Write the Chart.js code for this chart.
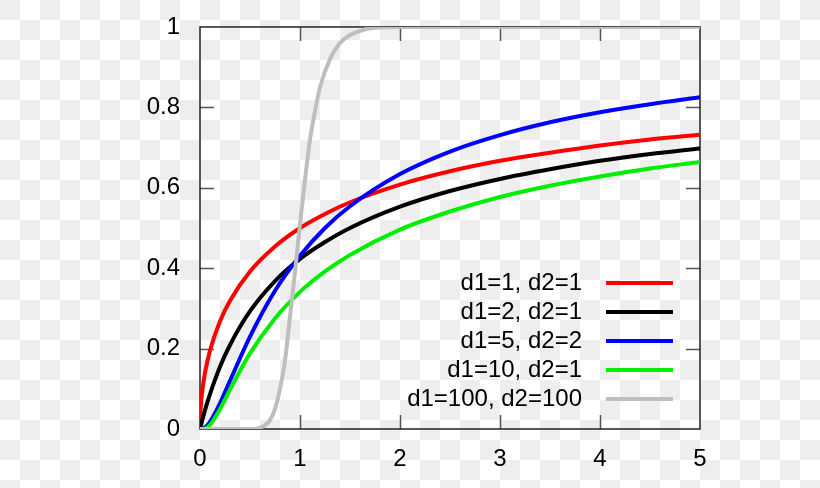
<!DOCTYPE html>
<html>
<head>
<meta charset="utf-8">
<script src="https://cdn.jsdelivr.net/npm/chart.js@4"></script>
<style>
  html, body { margin: 0; padding: 0; }
  body {
    width: 820px; height: 488px;
    background: repeating-conic-gradient(#fff 0% 25%, #eeeeee 0% 50%) 0 0 / 40px 40px;
  }
  #wrap { width: 820px; height: 488px; }
</style>
</head>
<body>
<div id="wrap"><canvas id="cdfChart" width="820" height="488"></canvas></div>
<script>
// x positions shared by the four smooth curves
const xMain = [0, 0.003, 0.01, 0.02, 0.05, 0.1, 0.2, 0.3, 0.5, 0.75, 1, 1.25, 1.5, 2, 2.5, 3, 3.5, 4, 4.5, 5];
const red   = [0, 0.035, 0.064, 0.089, 0.140, 0.195, 0.268, 0.319, 0.392, 0.454, 0.500, 0.535, 0.564, 0.608, 0.641, 0.667, 0.687, 0.705, 0.720, 0.732];
const black = [0, 0.003, 0.010, 0.019, 0.047, 0.087, 0.155, 0.209, 0.293, 0.368, 0.423, 0.465, 0.500, 0.553, 0.592, 0.622, 0.646, 0.667, 0.684, 0.698];
const blue  = [0, 0, 0, 0.0005, 0.004, 0.018, 0.064, 0.120, 0.230, 0.344, 0.431, 0.500, 0.554, 0.634, 0.690, 0.731, 0.763, 0.788, 0.808, 0.825];
const green = [0, 0, 0, 0, 0.001, 0.010, 0.049, 0.098, 0.188, 0.275, 0.341, 0.392, 0.433, 0.496, 0.541, 0.577, 0.605, 0.628, 0.648, 0.664];

// the steep d1=100, d2=100 curve needs its own x positions
const xGray = [0, 0.5, 0.6, 0.7, 0.75, 0.8, 0.85, 0.9, 0.95, 1.0, 1.05, 1.1, 1.15, 1.2, 1.3, 1.4, 1.5, 1.6, 1.7, 2, 3, 4, 5];
const gray  = [0, 0, 0.003, 0.022, 0.05, 0.10, 0.17, 0.28, 0.39, 0.51, 0.62, 0.72, 0.79, 0.85, 0.92, 0.96, 0.98, 0.99, 0.997, 1, 1, 1, 1];

const labels = ['d1=1, d2=1', 'd1=2, d2=1', 'd1=5, d2=2', 'd1=10, d2=1', 'd1=100, d2=100'];
const colors = ['#ff0000', '#000000', '#0000ff', '#00ee00', '#bebebe'];
const xTicks = [0, 1, 2, 3, 4, 5];
const yTicks = [0, 0.2, 0.4, 0.6, 0.8, 1];

const FONT = 'Liberation Sans, Arial, sans-serif';
const FSIZE = 24;

function pts(xs, ys) {
  return xs.map((x, i) => ({ x: x, y: ys[i] }));
}

const series = [pts(xMain, red), pts(xMain, black), pts(xMain, blue), pts(xMain, green), pts(xGray, gray)];

// frame with inward ticks on all four sides (gnuplot style)
const framePlugin = {
  id: 'frame',
  beforeDatasetsDraw(chart) {
    const { ctx, chartArea: a, scales } = chart;
    const len = 14;
    ctx.save();
    ctx.lineWidth = 1.5;
    ctx.strokeStyle = '#555';
    ctx.beginPath();
    xTicks.forEach(v => {
      const px = Math.round(scales.x.getPixelForValue(v)) + 0.5;
      if (v > 0 && v < 5) {
        ctx.moveTo(px, a.bottom); ctx.lineTo(px, a.bottom - len);
        ctx.moveTo(px, a.top); ctx.lineTo(px, a.top + len);
      }
    });
    yTicks.forEach(v => {
      const py = Math.round(scales.y.getPixelForValue(v)) + 0.5;
      if (v > 0 && v < 1) {
        ctx.moveTo(a.left, py); ctx.lineTo(a.left + len, py);
        ctx.moveTo(a.right, py); ctx.lineTo(a.right - len, py);
      }
    });
    ctx.stroke();
    ctx.strokeStyle = '#222';
    ctx.strokeRect(a.left, a.top, a.right - a.left, a.bottom - a.top);
    ctx.restore();
  }
};

// key drawn inside the plot, text right-aligned with the sample line after it
const keyPlugin = {
  id: 'key',
  afterDatasetsDraw(chart) {
    const { ctx, chartArea: a } = chart;
    ctx.save();
    ctx.font = FSIZE + 'px ' + FONT;
    ctx.fillStyle = '#000';
    ctx.textAlign = 'right';
    ctx.textBaseline = 'middle';
    ctx.lineWidth = 4;
    labels.forEach((lab, i) => {
      const y = a.bottom - 146 + i * 29;
      ctx.fillText(lab, a.right - 118, y);
      ctx.strokeStyle = colors[i];
      ctx.beginPath();
      ctx.moveTo(a.right - 94, y);
      ctx.lineTo(a.right - 27, y);
      ctx.stroke();
    });
    ctx.restore();
  }
};

new Chart(document.getElementById('cdfChart').getContext('2d'), {
  type: 'line',
  data: {
    datasets: series.map((d, i) => ({
      label: labels[i],
      data: d,
      borderColor: colors[i],
      borderWidth: 4,
      pointRadius: 0,
      fill: false,
      cubicInterpolationMode: 'monotone',
      order: 5 - i
    }))
  },
  options: {
    responsive: false,
    animation: false,
    events: [],
    layout: { padding: { top: 0, right: 120, left: 0, bottom: 0 } },
    plugins: { legend: { display: false }, tooltip: { enabled: false } },
    scales: {
      x: {
        type: 'linear', min: 0, max: 5,
        afterFit(scale) { scale.height = 59; },
        afterBuildTicks(scale) { scale.ticks = xTicks.map(v => ({ value: v })); },
        ticks: { color: '#000', font: { family: FONT, size: FSIZE }, padding: 16, maxRotation: 0 },
        grid: { display: false, drawTicks: false },
        border: { display: false }
      },
      y: {
        type: 'linear', min: 0, max: 1,
        afterFit(scale) { scale.width = 200; },
        afterBuildTicks(scale) { scale.ticks = yTicks.map(v => ({ value: v })); },
        ticks: { color: '#000', font: { family: FONT, size: FSIZE, lineHeight: 0.58 }, padding: 20, callback: v => String(v) },
        grid: { display: false, drawTicks: false },
        border: { display: false }
      }
    }
  },
  plugins: [framePlugin, keyPlugin]
});
</script>
</body>
</html>
